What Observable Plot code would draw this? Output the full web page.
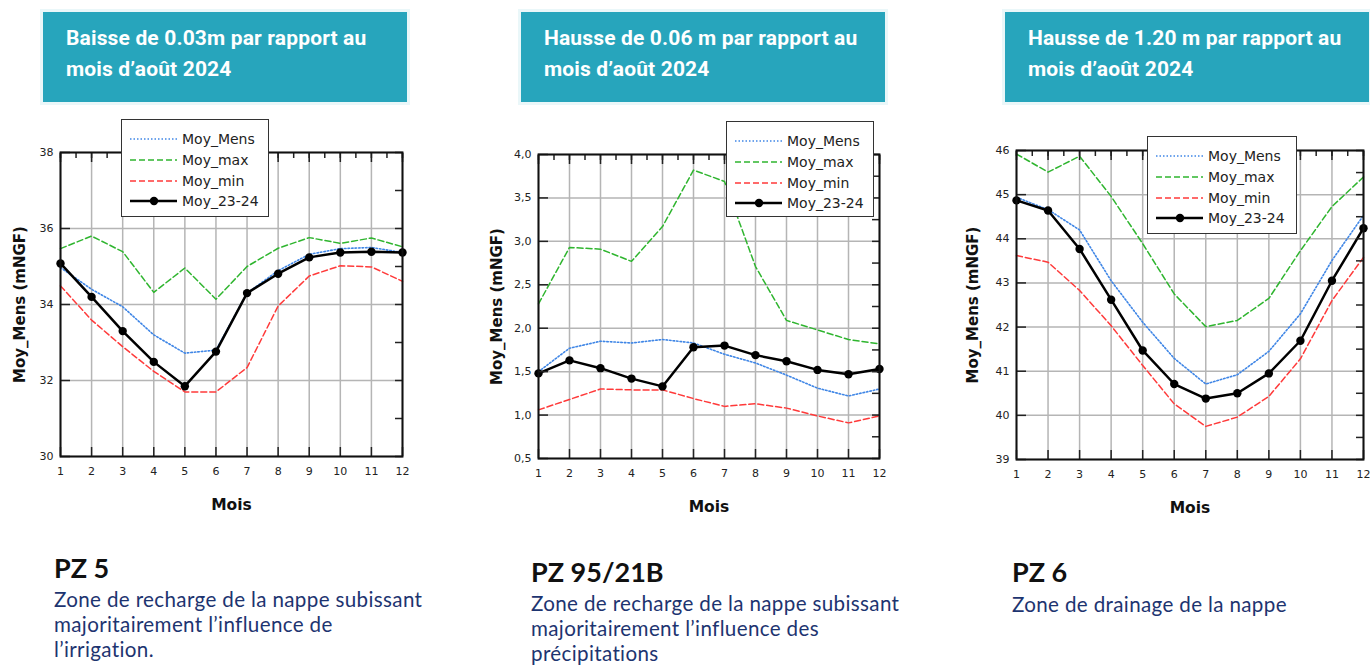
<!DOCTYPE html>
<html>
<head>
<meta charset="utf-8">
<script src="https://cdn.jsdelivr.net/npm/d3@7"></script>
<script src="https://cdn.jsdelivr.net/npm/@observablehq/plot@0.6"></script>
<style>
  html, body { margin: 0; padding: 0; background: #fff; }
  #page { position: relative; width: 1370px; height: 666px; overflow: hidden; background: #fff; }
  .hdr { position: absolute; box-sizing: border-box; background: #27a5bc; border: 3px solid #eaf7f9;
         color: #fff; font-family: Roboto, sans-serif; font-weight: 700; font-size: 21px; letter-spacing: 0.15px; line-height: 31px; padding: 11px 0 0 23px; }
  .chart { position: absolute; }
  .legend { position: absolute; box-sizing: border-box; background: #fff; border: 1.5px solid #333;
            font-family: "DejaVu Sans", sans-serif; font-size: 14px; color: #222; padding: 9px 0 0 8px; }
  .legend .row { height: 20.7px; display: flex; align-items: center; }
  .legend svg { margin-right: 4px; }
  .pz { position: absolute; font-family: Lato, sans-serif; font-weight: 700; font-size: 27px; color: #111; }
  .desc { position: absolute; font-family: Lato, sans-serif; font-size: 20.6px; letter-spacing: 0.35px; line-height: 25px; color: #1d3470; }
</style>
</head>
<body>
<div id="page"></div>
<script>
// ---- data ----
const months = [1, 2, 3, 4, 5, 6, 7, 8, 9, 10, 11, 12];
const seriesNames = ["Moy_Mens", "Moy_max", "Moy_min", "Moy_23-24"];

const pz5Mens = [34.97, 34.40, 33.94, 33.20, 32.72, 32.80, 34.30, 34.89, 35.32, 35.47, 35.50, 35.37];
const pz5Max  = [35.47, 35.80, 35.39, 34.32, 34.96, 34.14, 35.00, 35.48, 35.76, 35.61, 35.75, 35.52];
const pz5Min  = [34.49, 33.59, 32.89, 32.24, 31.70, 31.70, 32.34, 33.96, 34.75, 35.02, 34.99, 34.61];
const pz5Obs  = [35.08, 34.20, 33.30, 32.49, 31.85, 32.76, 34.30, 34.81, 35.24, 35.37, 35.39, 35.37];

const pz95Mens = [1.50, 1.77, 1.85, 1.83, 1.87, 1.83, 1.70, 1.60, 1.46, 1.31, 1.22, 1.30];
const pz95Max  = [2.28, 2.93, 2.91, 2.77, 3.17, 3.82, 3.69, 2.71, 2.09, 1.98, 1.87, 1.82];
const pz95Min  = [1.06, 1.18, 1.30, 1.29, 1.29, 1.19, 1.10, 1.13, 1.08, 0.99, 0.91, 0.99];
const pz95Obs  = [1.48, 1.63, 1.54, 1.42, 1.33, 1.78, 1.80, 1.69, 1.62, 1.52, 1.47, 1.53];

const pz6Mens = [44.94, 44.66, 44.20, 43.05, 42.11, 41.29, 40.71, 40.92, 41.45, 42.30, 43.51, 44.53];
const pz6Max  = [45.92, 45.51, 45.87, 44.96, 43.89, 42.75, 42.01, 42.15, 42.65, 43.73, 44.73, 45.40];
const pz6Min  = [43.62, 43.47, 42.83, 42.03, 41.13, 40.26, 39.75, 39.96, 40.43, 41.28, 42.60, 43.58];
const pz6Obs  = [44.87, 44.64, 43.77, 42.62, 41.47, 40.71, 40.38, 40.50, 40.95, 41.69, 43.05, 44.24];

const pz5YTicks = [30, 32, 34, 36, 38];
const pz95YTicks = [0.5, 1.0, 1.5, 2.0, 2.5, 3.0, 3.5, 4.0];
const pz6YTicks = [39, 40, 41, 42, 43, 44, 45, 46];

const headers = ["Baisse de 0.03m par rapport au\nmois d’août 2024",
                 "Hausse de 0.06 m par rapport au\nmois d’août 2024",
                 "Hausse de 1.20 m par rapport au\nmois d’août 2024"];
const pzNames = ["PZ 5", "PZ 95/21B", "PZ 6"];
const pzDescs = ["Zone de recharge de la nappe subissant\nmajoritairement l’influence de\nl’irrigation.",
                 "Zone de recharge de la nappe subissant\nmajoritairement l’influence des\nprécipitations",
                 "Zone de drainage de la nappe"];
const yLabel = "Moy_Mens (mNGF)";
const xLabel = "Mois";

// ---- styles ----
const colMens = "#3f86e6", colMax = "#2fb52f", colMin = "#ff3a3a", colObs = "#000";
const dashMens = "1.5,2", dashMinMax = "6,3";

const page = document.getElementById("page");

function makeChart(cfg) {
  const {mens, max, min, obs, domain, ticks, minor, fmt, layout} = cfg;
  const rows = (vals) => months.map((m, i) => ({m, v: vals[i]}));
  const halfMonths = d3.range(1, 12.01, 0.5);
  const plot = Plot.plot({
    width: layout.w, height: layout.h,
    marginLeft: layout.ml, marginRight: layout.mr, marginTop: layout.mt, marginBottom: layout.mb,
    style: {fontFamily: "DejaVu Sans, sans-serif", fontSize: "11px", color: "#222", background: "transparent", overflow: "visible"},
    x: {domain: [1, 12]},
    y: {domain},
    marks: [
      Plot.gridX(months, {stroke: "#b5b5b5", strokeOpacity: 1, strokeWidth: 1.5}),
      Plot.gridY(ticks, {stroke: "#b5b5b5", strokeOpacity: 1, strokeWidth: 1.5}),
      Plot.line(rows(max), {x: "m", y: "v", stroke: colMax, strokeWidth: 1.5, strokeDasharray: dashMinMax}),
      Plot.line(rows(min), {x: "m", y: "v", stroke: colMin, strokeWidth: 1.5, strokeDasharray: dashMinMax}),
      Plot.line(rows(mens), {x: "m", y: "v", stroke: colMens, strokeWidth: 1.6, strokeDasharray: dashMens}),
      Plot.line(rows(obs), {x: "m", y: "v", stroke: colObs, strokeWidth: 2.5}),
      Plot.dot(rows(obs), {x: "m", y: "v", fill: colObs, r: 4.2}),
      // inward ticks
      Plot.axisX({anchor: "bottom", ticks: months, tickSize: -9, tickFormat: () => "", label: null, stroke: "#222", strokeWidth: 1.5}),
      Plot.axisX({anchor: "top", ticks: months, tickSize: -9, tickFormat: () => "", label: null, stroke: "#222", strokeWidth: 1.5}),
      Plot.axisX({anchor: "top", ticks: halfMonths, tickSize: -5, tickFormat: () => "", label: null, stroke: "#222", strokeWidth: 1.5}),
      Plot.axisY({anchor: "left", ticks, tickSize: -10, tickFormat: () => "", label: null, stroke: "#222", strokeWidth: 1.5}),
      Plot.axisY({anchor: "right", ticks: minor, tickSize: -8, tickFormat: () => "", label: null, stroke: "#222", strokeWidth: 1.5}),
      // labels
      Plot.axisX({anchor: "bottom", ticks: months, tickSize: 0, tickPadding: 11, label: null, fill: "#222"}),
      Plot.axisY({anchor: "left", ticks, tickSize: 0, tickPadding: 7, tickFormat: fmt, label: null, fill: "#222"}),
      Plot.frame({stroke: "#111", strokeWidth: 2}),
      Plot.text([yLabel], {frameAnchor: "left", rotate: -90, dx: layout.ydx, fontWeight: "bold", fontSize: 15, fill: "#111", textAnchor: "middle"}),
      Plot.text([xLabel], {frameAnchor: "bottom", dy: 49, fontWeight: "bold", fontSize: 15.5, fill: "#111", lineAnchor: "middle"})
    ]
  });
  const div = document.createElement("div");
  div.className = "chart";
  div.style.left = layout.x + "px";
  div.style.top = layout.y + "px";
  div.appendChild(plot);
  page.appendChild(div);

  // legend (overlay)
  const lg = document.createElement("div");
  lg.className = "legend";
  Object.assign(lg.style, {left: cfg.legend.x + "px", top: cfg.legend.y + "px", width: cfg.legend.w + "px", height: cfg.legend.h + "px"});
  const styles = [
    {stroke: colMens, dash: dashMens, w: 1.6, dot: false},
    {stroke: colMax, dash: dashMinMax, w: 1.5, dot: false},
    {stroke: colMin, dash: dashMinMax, w: 1.5, dot: false},
    {stroke: colObs, dash: null, w: 2.5, dot: true}
  ];
  seriesNames.forEach((name, i) => {
    const s = styles[i];
    const row = document.createElement("div");
    row.className = "row";
    row.innerHTML = `<svg width="48" height="12"><line x1="0" y1="6" x2="47" y2="6" stroke="${s.stroke}" stroke-width="${s.w}" ${s.dash ? `stroke-dasharray="${s.dash}"` : ""}/>${s.dot ? `<circle cx="24" cy="6" r="4.2" fill="#000"/>` : ""}</svg><span>${name}</span>`;
    lg.appendChild(row);
  });
  page.appendChild(lg);
}

const f1 = d => d3.format(".0f")(d);
const fComma = d => d.toFixed(1).replace(".", ",");

makeChart({mens: pz5Mens, max: pz5Max, min: pz5Min, obs: pz5Obs, domain: [30, 38], ticks: pz5YTicks,
  minor: d3.range(30, 38.01, 1), fmt: f1,
  layout: {x: 0, y: 110, w: 420, h: 420, ml: 60, mr: 18, mt: 42, mb: 74, ydx: -40},
  legend: {x: 121, y: 119, w: 148, h: 98}});
makeChart({mens: pz95Mens, max: pz95Max, min: pz95Min, obs: pz95Obs, domain: [0.5, 4.0], ticks: pz95YTicks,
  minor: d3.range(0.5, 4.01, 0.25), fmt: fComma,
  layout: {x: 480, y: 110, w: 420, h: 420, ml: 58, mr: 21, mt: 44, mb: 72, ydx: -41},
  legend: {x: 726, y: 121, w: 148, h: 96}});
makeChart({mens: pz6Mens, max: pz6Max, min: pz6Min, obs: pz6Obs, domain: [39, 46], ticks: pz6YTicks,
  minor: d3.range(39, 46.01, 0.5), fmt: f1,
  layout: {x: 950, y: 110, w: 420, h: 420, ml: 66, mr: 7, mt: 40, mb: 71, ydx: -43},
  legend: {x: 1147, y: 136, w: 150, h: 98}});

// headers
const hdrPos = [{x: 40, w: 370}, {x: 518, w: 370}, {x: 1002, w: 370}];
headers.forEach((t, i) => {
  const d = document.createElement("div");
  d.className = "hdr";
  Object.assign(d.style, {left: hdrPos[i].x + "px", top: "9px", width: hdrPos[i].w + "px", height: "96px"});
  d.innerHTML = t.replace("\n", "<br>");
  page.appendChild(d);
});

// bottom captions
const pzPos = [{x: 54, y: 551, dy: 587}, {x: 531, y: 555, dy: 591}, {x: 1012, y: 555, dy: 592}];
pzNames.forEach((t, i) => {
  const p = document.createElement("div");
  p.className = "pz";
  Object.assign(p.style, {left: pzPos[i].x + "px", top: pzPos[i].y + "px"});
  p.textContent = t;
  page.appendChild(p);
  const d = document.createElement("div");
  d.className = "desc";
  Object.assign(d.style, {left: pzPos[i].x + "px", top: pzPos[i].dy + "px"});
  d.innerHTML = pzDescs[i].split("\n").join("<br>");
  page.appendChild(d);
});
</script>
</body>
</html>
